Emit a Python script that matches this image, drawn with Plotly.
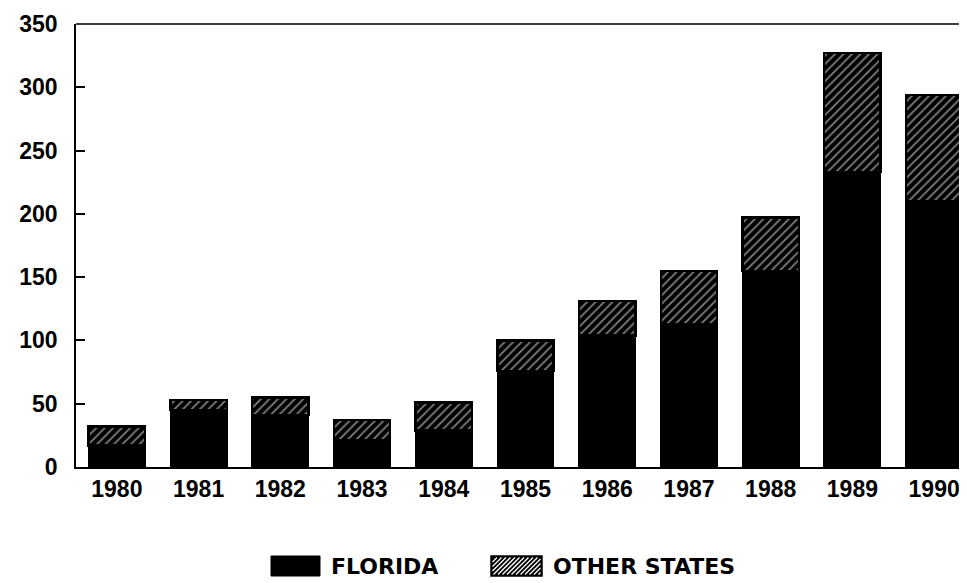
import plotly.graph_objects as go

years = ["1980", "1981", "1982", "1983", "1984", "1985", "1986", "1987", "1988", "1989", "1990"]
florida = [17, 45, 41, 21, 29, 76, 104, 113, 155, 233, 210]
totals = [32, 53, 55, 37, 51, 100, 131, 155, 197, 327, 294]
other_states = [t - f for t, f in zip(totals, florida)]
y_ticks = [0, 50, 100, 150, 200, 250, 300, 350]

FONT = "Liberation Sans, Arial, sans-serif"
LEG_FONT = "DejaVu Sans, Liberation Sans, sans-serif"
W, H = 967, 583
L, R, T, B = 68, 0, 16, 124
PW, PH = W - L - R, H - T - B


def px(x):
    return (x - L) / PW


def py(y):
    return (H - B - y) / PH


fig = go.Figure()
fig.add_trace(go.Bar(
    x=years, y=florida, name="FLORIDA",
    marker=dict(color="black", line=dict(color="black", width=1.5)),
    showlegend=False,
))
fig.add_trace(go.Bar(
    x=years, y=other_states, name="OTHER STATES",
    marker=dict(color="black", line=dict(color="black", width=2.5),
                pattern=dict(shape="/", fgcolor="white", bgcolor="black",
                             size=6, solidity=0.3)),
    showlegend=False,
))

# ---- manual legend (styling only) ----
fig.add_shape(type="rect", xref="paper", yref="paper",
              x0=px(263), x1=px(312), y0=py(548), y1=py(568),
              fillcolor="black", line=dict(color="black", width=1))
fig.add_annotation(text="<b>FLORIDA</b>", xref="paper", yref="paper",
                   x=px(321), y=py(558), xanchor="left", yanchor="middle",
                   showarrow=False, font=dict(family=LEG_FONT, size=22, color="black"))
hx0, hx1, hy0, hy1 = 483, 534, 548, 568
fig.add_shape(type="rect", xref="paper", yref="paper",
              x0=px(hx0), x1=px(hx1), y0=py(hy0), y1=py(hy1),
              fillcolor="black", line=dict(color="black", width=1.5))
c = hx0 + hy0 + 3
while c < hx1 + hy1 - 2:
    ya = max(hy0 + 1.5, c - (hx1 - 1.5))
    yb = min(hy1 - 1.5, c - (hx0 + 1.5))
    if yb > ya:
        fig.add_shape(type="line", xref="paper", yref="paper",
                      x0=px(c - yb), y0=py(yb), x1=px(c - ya), y1=py(ya),
                      line=dict(color="white", width=1.3))
    c += 4.5
fig.add_annotation(text="<b>OTHER STATES</b>", xref="paper", yref="paper",
                   x=px(543), y=py(558), xanchor="left", yanchor="middle",
                   showarrow=False, font=dict(family=LEG_FONT, size=22, color="black"))

# top frame line
fig.add_shape(type="line", xref="paper", yref="paper", x0=0, x1=1, y0=1, y1=1,
              line=dict(color="black", width=1.5))

fig.update_layout(
    width=W, height=H,
    barmode="stack", bargap=0.31,
    plot_bgcolor="white", paper_bgcolor="white",
    margin=dict(l=L, r=R, t=T, b=B, autoexpand=False),
    font=dict(family=FONT, size=23, color="black"),
    xaxis=dict(showline=True, linecolor="black", linewidth=1.5, ticks="",
               tickvals=years, ticktext=["<b>%s</b>" % y for y in years],
               tickfont=dict(family=FONT, size=23, color="black"),
               range=[-0.5, 10.5], showgrid=False, automargin=False,
               ticklabelstandoff=1),
    yaxis=dict(range=[0, 350], tickvals=y_ticks,
               ticktext=["<b>%d</b>" % v for v in y_ticks],
               showline=True, linecolor="black", linewidth=1.5,
               ticks="inside", ticklen=9, tickcolor="black", tickwidth=1.5,
               showgrid=False, zeroline=False, automargin=False,
               ticklabelstandoff=12,
               tickfont=dict(family=FONT, size=23, color="black")),
)

fig.write_html("out.html")
